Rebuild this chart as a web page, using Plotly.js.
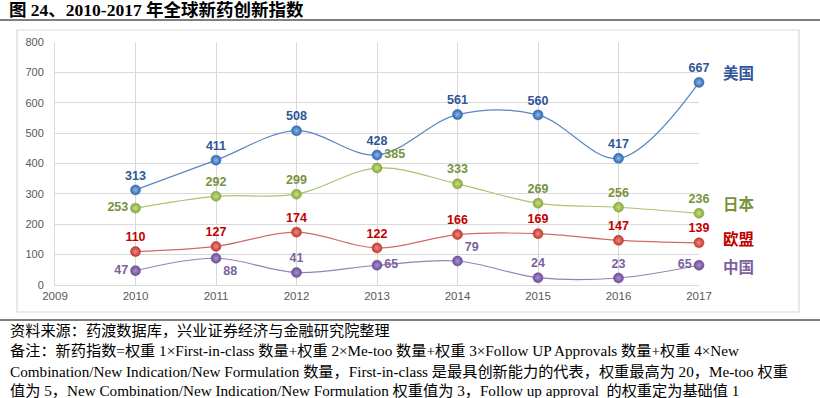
<!DOCTYPE html>
<html><head><meta charset="utf-8">
<script src="https://cdn.plot.ly/plotly-3.0.1.min.js"></script>
<style>html,body{margin:0;padding:0;background:#fff;}#chart{width:820px;height:398px;}</style>
</head><body><div id="chart"></div>
<script>
const years = [2010, 2011, 2012, 2013, 2014, 2015, 2016, 2017];
const usa = [313, 411, 508, 428, 561, 560, 417, 667];
const japan = [253, 292, 299, 385, 333, 269, 256, 236];
const eu = [110, 127, 174, 122, 166, 169, 147, 139];
const china = [47, 88, 41, 65, 79, 24, 23, 65];
const seriesNames = ['美国', '日本', '欧盟', '中国'];
const yTicks = [0, 100, 200, 300, 400, 500, 600, 700, 800];
const xTicks = [2009, 2010, 2011, 2012, 2013, 2014, 2015, 2016, 2017];

const W = 820, H = 398, ML = 55, MR = 121, MT = 42, MB = 113;
const PW = W - ML - MR, PH = H - MT - MB;
const px = x => (x - ML) / PW;
const py = y => (H - MB - y) / PH;

const labelFont = 'Liberation Sans, Arial, sans-serif';
function mk(name, vals, lineColor, markerColor, centerColor, textColor, pos) {
  return {
    x: years, y: vals, name: name, type: 'scatter', mode: 'lines+markers+text',
    line: {color: lineColor, width: 1.2, shape: 'spline', smoothing: 1},
    marker: {size: 10, color: markerColor, gradient: {type: 'radial', color: centerColor}, line: {width: 0.5, color: markerColor}},
    text: vals.map(String), textposition: pos,
    textfont: {family: labelFont, size: 12.5, color: textColor, weight: 'bold'},
    cliponaxis: false, hoverinfo: 'x+y'
  };
}
const traces = [
  mk('美国', usa, '#5B86C0', '#2E68B0', '#8FB6E8', '#2F5597',
     ['top center','top center','top center','top center','top center','top center','top center','top center']),
  mk('日本', japan, '#A8C470', '#86A93A', '#C8E08A', '#77933C',
     ['middle left','top center','top center','top right','top center','top center','top center','top center']),
  mk('欧盟', eu, '#D06A67', '#C0392F', '#EE8C86', '#C00000',
     ['top center','top center','top center','top center','top center','top center','top center','top center']),
  mk('中国', china, '#9880B8', '#6A4E96', '#A990CF', '#7B61A0',
     ['middle left','bottom right','top center','middle right','top right','top center','top center','middle left'])
];

const serif = 'Liberation Serif, Times New Roman, Noto Sans CJK SC, serif';
const nameColors = ['#2F5597', '#77933C', '#C00000', '#7B61A0'];
const nameY = [72, 203, 238, 266];
const annotations = seriesNames.map((n, i) => ({
  xref: 'paper', yref: 'paper', x: px(721), y: py(nameY[i]), xanchor: 'left', yanchor: 'middle',
  text: '<b>' + n + '</b>', showarrow: false,
  font: {family: 'Noto Sans CJK SC, sans-serif', size: 15.5, color: nameColors[i]}
}));
annotations.push({xref:'paper', yref:'paper', x: px(7), y: py(10), xanchor:'left', yanchor:'middle', showarrow:false,
  text:'<b>图 24、2010-2017 年全球新药创新指数</b>', font:{family: serif, size: 17.5, color:'#000'}});
const notes = [
  '资料来源：药渡数据库，兴业证券经济与金融研究院整理',
  '备注：新药指数=权重 1×First-in-class 数量+权重 2×Me-too 数量+权重 3×Follow UP Approvals 数量+权重 4×New',
  'Combination/New Indication/New Formulation 数量，First-in-class 是最具创新能力的代表，权重最高为 20，Me-too 权重',
  '值为 5，New Combination/New Indication/New Formulation 权重值为 3，Follow up approval  的权重定为基础值 1'
];
const noteY = [330, 351, 371, 390];
notes.forEach((t, i) => annotations.push({xref:'paper', yref:'paper', x: px(8), y: py(noteY[i]), xanchor:'left', yanchor:'middle',
  showarrow:false, text:t, font:{family: serif, size: 15.2, color:'#000'}}));

const shapes = [
  {type:'rect', xref:'paper', yref:'paper', x0: px(17), x1: px(799), y0: py(312), y1: py(30), line:{color:'#D9D9D9', width:1.2}, layer:'below'},
  {type:'line', xref:'paper', yref:'paper', x0: px(0), x1: px(820), y0: py(20), y1: py(20), line:{color:'#000', width:1}},
  {type:'line', xref:'paper', yref:'paper', x0: px(0), x1: px(820), y0: py(320), y1: py(320), line:{color:'#000', width:1}}
];

const layout = {
  width: W, height: H, margin: {l: ML, r: MR, t: MT, b: MB, pad: 0},
  paper_bgcolor: '#fff', plot_bgcolor: '#fff', showlegend: false,
  font: {family: labelFont},
  xaxis: {range: [2009, 2017], tickvals: xTicks, ticktext: xTicks.map(String), showgrid: true, gridcolor: '#D9D9D9',
    zeroline: false, showline: true, linecolor: '#D9D9D9', ticks: '', tickfont: {size: 11.5, color: '#595959'}, fixedrange: true},
  yaxis: {range: [0, 800], tickvals: yTicks, ticktext: yTicks.map(String), showgrid: true, gridcolor: '#D9D9D9',
    zeroline: false, showline: true, linecolor: '#D9D9D9', ticks: '', ticklabelstandoff: 8, tickfont: {size: 11, color: '#595959'}, fixedrange: true},
  annotations: annotations, shapes: shapes
};
Plotly.newPlot('chart', traces, layout, {displayModeBar: false, staticPlot: true});
</script></body></html>
